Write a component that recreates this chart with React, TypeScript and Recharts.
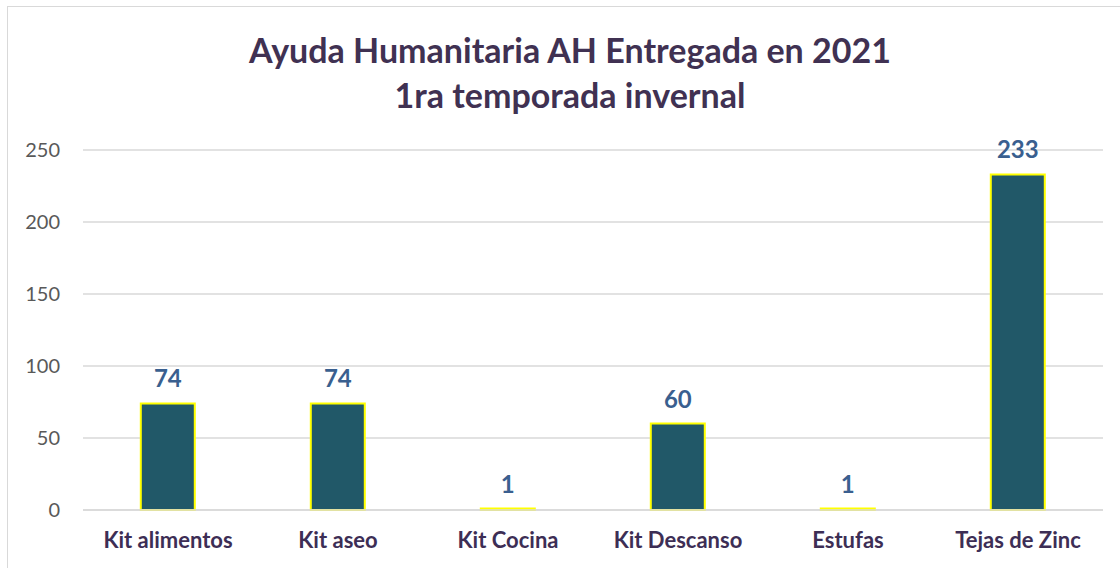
import { BarChart, Bar, XAxis, YAxis, CartesianGrid, LabelList } from 'recharts';

const categories = ['Kit alimentos', 'Kit aseo', 'Kit Cocina', 'Kit Descanso', 'Estufas', 'Tejas de Zinc'];
const values = [74, 74, 1, 60, 1, 233];
const yTicks = [0, 50, 100, 150, 200, 250];
const titleLines = ['Ayuda Humanitaria AH Entregada en 2021', '1ra temporada invernal'];

const data = categories.map((name, i) => ({ name, value: values[i] }));

const FONT = 'Lato, "Open Sans", sans-serif';

export default function App() {
  return (
    <div style={{ position: 'absolute', left: 0, top: 0, width: 1120, height: 568, background: '#fff', fontFamily: FONT }}>
      {/* chart frame */}
      <div
        style={{
          position: 'absolute',
          left: 7,
          top: 6,
          width: 1120,
          height: 580,
          border: '1px solid #d9d9d9',
        }}
      />
      <div
        style={{
          position: 'absolute',
          left: 0,
          top: 27,
          width: 1140,
          textAlign: 'center',
          color: '#403152',
          fontWeight: 700,
          fontSize: 34,
          lineHeight: '45px',
        }}
      >
        {titleLines.map((t) => (
          <div key={t}>{t}</div>
        ))}
      </div>
      <div style={{ position: 'absolute', left: 0, top: 0 }}>
        <BarChart
          width={1120}
          height={568}
          data={data}
          margin={{ top: 150, right: 17, left: 23, bottom: 0 }}
          barCategoryGap="34%"
        >
          <CartesianGrid vertical={false} stroke="#d9d9d9" strokeWidth={1.5} />
          <XAxis
            dataKey="name"
            axisLine={{ stroke: '#d9d9d9', strokeWidth: 1.5 }}
            tickLine={false}
            tickMargin={16}
            interval={0}
            height={58}
            tick={{ fill: '#3d2e55', fontSize: 22, fontWeight: 700, fontFamily: FONT }}
          />
          <YAxis
            domain={[0, 250]}
            ticks={yTicks}
            width={60}
            axisLine={false}
            tickLine={false}
            tickMargin={17}
            tick={{ fill: '#595959', fontSize: 20, fontFamily: FONT }}
          />
          <Bar dataKey="value" fill="#215868" stroke="#ffff00" strokeWidth={2} isAnimationActive={false}>
            <LabelList
              dataKey="value"
              position="top"
              offset={16}
              fill="#3a5f8f"
              fontSize={24}
              fontWeight={700}
              fontFamily={FONT}
            />
          </Bar>
        </BarChart>
      </div>
    </div>
  );
}
